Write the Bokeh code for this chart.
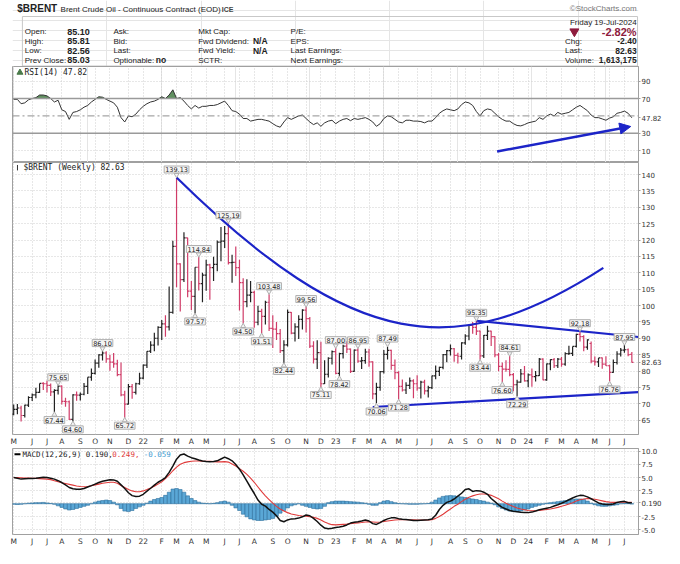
import numpy as np
import pandas as pd
from bokeh.plotting import figure
from bokeh.models import (Range1d, FixedTicker, Label, Arrow, NormalHead, Span,
                          Grid, ColumnDataSource)
from bokeh.layouts import column
from bokeh.embed import file_html
from bokeh.resources import INLINE
from bokeh.core.properties import value

# ---------------- header values ----------------
symbol = "$BRENT"
name = "Brent Crude Oil - Continuous Contract (EOD)"
exchange = "ICE"
as_of = "Friday 19-Jul-2024"
q_open, q_high, q_low, q_prev = 85.10, 85.81, 82.56, 85.03
q_last, q_chg, q_pct = 82.63, -2.40, -2.82
q_volume = 1613175

# ---------------- weekly data (first week ends 2021-05-07) ----------------
first_week = "2021-05-07"
opens = [66.8, 68.3, 68.7, 66.4, 69.6, 71.9, 72.7, 73.5, 76.2, 76.1,
         75.6, 73.6, 74.1, 75.4, 70.7, 70.6, 65.2, 72.7, 72.6, 72.9,
         75.3, 78.1, 79.3, 82.4, 84.9, 85.5, 83.7, 82.7, 82.2, 78.9,
         72.7, 69.9, 75.2, 73.5, 76.1, 77.8, 81.8, 86.1, 87.9, 90.0,
         93.3, 94.4, 93.5, 97.9, 118.1, 112.7, 107.9, 120.7, 104.4, 102.8,
         111.7, 106.7, 109.3, 112.4, 111.6, 112.6, 119.4, 119.7, 122.0, 113.1,
         113.2, 111.6, 107.0, 101.2, 103.2, 104.0, 94.9, 98.2, 96.7, 101.0,
         93.0, 92.8, 91.4, 86.2, 88.0, 97.9, 91.6, 93.5, 95.8, 98.6,
         96.0, 87.6, 83.6, 85.6, 76.1, 79.0, 83.9, 85.9, 79.3, 85.3,
         87.6, 86.7, 79.9, 86.4, 83.0, 83.2, 85.8, 82.8, 73.0, 75.0,
         79.8, 85.1, 86.3, 81.7, 79.5, 75.3, 74.2, 75.6, 77.0, 76.1,
         74.8, 76.6, 73.9, 74.9, 78.5, 79.9, 81.1, 85.0, 86.2, 86.8,
         84.8, 84.5, 88.6, 90.7, 93.9, 93.3, 92.2, 84.6, 90.9, 92.2,
         90.5, 84.9, 81.4, 80.6, 80.5, 78.9, 75.8, 76.6, 79.1, 77.0,
         78.8, 78.3, 78.6, 83.6, 77.3, 82.2, 83.5, 81.6, 83.6, 82.1,
         85.3, 85.4, 87.5, 91.2, 90.5, 87.3, 88.4, 83.0, 82.8, 84.0,
         82.1, 81.6, 79.6, 82.6, 85.2, 86.4, 86.5, 85.10]
highs = [69.8, 69.9, 69.4, 69.7, 72.3, 73.1, 74.9, 76.2, 76.6, 77.0,
         76.2, 74.4, 75.65, 75.6, 71.8, 71.0, 72.9, 73.7, 73.4, 76.3,
         78.1, 80.8, 83.5, 85.1, 86.10, 86.0, 85.0, 85.5, 83.4, 82.6,
         74.0, 76.0, 76.0, 76.4, 79.5, 82.0, 86.0, 89.1, 91.7, 93.7,
         95.6, 97.0, 105.8, 119.8, 139.13, 112.9, 122.4, 120.7, 107.5, 111.7,
         114.84, 110.0, 114.0, 112.8, 114.9, 119.9, 124.0, 124.3, 125.19, 115.5,
         118.0, 114.0, 108.3, 108.0, 107.5, 104.5, 99.9, 99.0, 101.5, 103.48,
         97.0, 95.0, 92.8, 89.4, 98.8, 98.0, 94.6, 97.0, 98.9, 99.56,
         96.5, 89.1, 89.4, 88.9, 83.3, 84.2, 86.3, 87.00, 85.6, 88.0,
         89.1, 86.9, 86.6, 86.95, 84.3, 86.8, 86.8, 83.0, 76.4, 80.0,
         86.4, 87.49, 86.5, 83.5, 79.9, 77.4, 76.6, 78.0, 77.5, 78.7,
         77.0, 77.3, 75.5, 78.6, 81.7, 81.3, 85.2, 86.4, 88.1, 87.0,
         85.6, 88.8, 91.2, 94.3, 95.0, 95.35, 92.4, 91.0, 93.8, 92.3,
         90.6, 85.5, 82.6, 83.3, 84.61, 79.4, 77.3, 80.6, 81.5, 79.2,
         80.8, 80.0, 84.0, 83.9, 82.3, 83.6, 84.0, 84.0, 84.3, 85.7,
         87.7, 87.5, 91.4, 92.18, 90.9, 89.7, 89.0, 84.4, 84.0, 84.1,
         84.5, 81.9, 83.5, 86.0, 87.0, 87.95, 86.9, 85.81]
lows = [66.5, 66.8, 64.6, 65.8, 69.0, 70.8, 71.7, 73.3, 74.2, 73.4,
        72.4, 67.44, 72.8, 69.8, 69.1, 65.0, 64.60, 70.9, 71.0, 72.6,
        73.0, 77.0, 78.9, 81.0, 83.2, 82.5, 80.1, 81.0, 78.4, 72.3,
        65.72, 69.8, 71.5, 72.8, 75.8, 77.5, 80.9, 85.5, 86.0, 87.8,
        89.5, 90.5, 92.4, 97.5, 105.6, 98.2, 107.2, 102.5, 98.6, 97.57,
        104.6, 101.0, 104.5, 101.8, 107.5, 110.5, 113.5, 117.6, 112.5, 107.0,
        109.0, 98.5, 94.50, 99.5, 101.0, 93.2, 94.0, 91.51, 94.2, 92.2,
        87.0, 89.5, 85.5, 82.44, 87.5, 91.2, 89.0, 89.8, 92.7, 91.8,
        87.0, 82.3, 80.6, 75.11, 76.0, 78.0, 82.0, 79.0, 78.42, 83.8,
        85.5, 79.4, 79.8, 82.5, 80.6, 82.2, 81.3, 71.4, 70.06, 74.0,
        79.2, 83.5, 80.4, 77.5, 71.28, 73.7, 73.0, 74.5, 71.7, 74.0,
        71.6, 72.8, 71.9, 74.5, 77.5, 78.5, 80.5, 82.7, 84.7, 82.8,
        82.3, 83.5, 88.0, 89.4, 91.4, 91.0, 83.44, 84.0, 89.5, 87.6,
        84.2, 79.9, 76.60, 79.8, 78.4, 73.8, 72.29, 76.4, 76.8, 75.0,
        75.2, 76.8, 78.5, 77.2, 77.0, 80.2, 80.9, 80.9, 81.3, 81.6,
        84.9, 84.6, 87.2, 89.0, 86.0, 86.5, 82.4, 81.7, 81.2, 80.7,
        81.5, 76.76, 79.5, 82.0, 84.4, 85.6, 84.5, 82.56]
closes = [68.3, 68.7, 66.4, 69.6, 71.9, 72.7, 73.5, 76.2, 76.1, 75.6,
          73.6, 74.1, 75.4, 70.7, 70.6, 65.2, 72.7, 72.6, 72.9, 75.3,
          78.1, 79.3, 82.4, 84.9, 85.5, 83.7, 82.7, 82.2, 78.9, 72.7,
          69.9, 75.2, 73.5, 76.1, 77.8, 81.8, 86.0, 87.9, 90.0, 93.3,
          94.4, 93.5, 97.9, 118.1, 112.7, 107.9, 120.7, 104.4, 102.8, 111.7,
          106.7, 109.3, 112.4, 111.6, 112.6, 119.4, 119.7, 122.0, 113.1, 113.2,
          111.6, 107.0, 101.2, 103.2, 104.0, 94.9, 98.2, 96.7, 101.0, 93.0,
          92.8, 91.4, 86.2, 88.0, 97.9, 91.6, 93.5, 95.8, 98.6, 96.0,
          87.6, 83.6, 85.6, 76.1, 79.0, 83.9, 85.9, 79.3, 85.3, 87.6,
          86.7, 79.9, 86.4, 83.0, 83.2, 85.8, 82.8, 73.0, 75.0, 79.8,
          85.1, 86.3, 81.7, 79.5, 75.3, 74.2, 75.6, 77.0, 76.1, 74.8,
          76.6, 73.9, 74.9, 78.5, 79.9, 81.1, 85.0, 86.2, 86.8, 84.8,
          84.5, 88.6, 90.7, 93.9, 93.3, 92.2, 84.6, 90.9, 92.2, 90.5,
          84.9, 81.4, 80.6, 80.5, 78.9, 75.8, 76.6, 79.1, 77.0, 78.8,
          78.3, 78.6, 83.6, 77.3, 82.2, 83.5, 81.6, 83.6, 82.1, 85.3,
          85.4, 87.5, 91.2, 90.5, 87.3, 89.5, 83.0, 82.8, 84.0, 82.1,
          81.6, 79.6, 82.6, 85.2, 86.4, 86.5, 85.03, 82.63]

rsi = [69, 69, 64, 65, 68.5, 70, 71, 74, 74, 73,
       70, 66, 68, 57, 55, 46, 54, 55, 57, 60,
       62, 66, 69, 72, 71.5, 69, 67, 65, 60, 48,
       43, 50, 49, 52, 57, 61, 64, 66, 67, 69,
       72, 70, 74, 80, 70, 71, 67, 62, 58, 62,
       59, 61, 61, 62, 62, 63, 65, 67, 62, 56,
       55, 52, 47, 47, 44, 45, 46, 46, 45, 44,
       41, 38.5, 37, 43, 48, 46, 48, 50, 51, 47,
       43, 40, 42, 38, 42, 44, 45, 41, 44, 46,
       47, 44.5, 47, 46, 47, 48, 46, 43, 38, 41,
       47, 50, 49, 46, 43, 42, 45, 45, 44, 44,
       43.5, 42, 44, 44, 48, 53, 56, 58, 57, 56,
       58, 63, 66, 65, 62, 55, 50, 56, 58, 57,
       53, 49, 46, 44, 44, 41, 39, 38.5, 40, 42,
       43, 44, 48, 46, 50, 52, 50, 54, 52, 53,
       54, 57, 60, 62, 59, 56, 51, 48, 48, 46.5,
       45, 47.5, 49, 53, 54, 55.5, 53, 47.82]

macd = [5.0, 4.85, 4.7, 4.75, 4.8, 4.8, 4.85, 4.95, 5.05, 5.0,
        4.85, 4.7, 4.4, 4.05, 3.6, 3.1, 2.85, 2.75, 2.75, 2.9,
        3.2, 3.45, 3.75, 4.05, 4.3, 4.45, 4.6, 4.55, 4.3, 3.6,
        2.9, 2.1, 1.55, 1.4, 1.45, 1.8, 2.4, 2.95, 3.55, 4.1,
        4.5, 5.0, 6.0, 7.2, 8.5, 9.3, 9.5, 9.1, 8.8, 8.6,
        8.35, 8.15, 8.05, 8.0, 8.05, 8.2, 8.55, 8.9, 8.6, 8.2,
        7.5, 6.6, 5.5, 4.3, 3.1, 1.95, 0.7, -0.1, -0.45, -1.1,
        -1.6, -2.3, -3.2, -3.45, -3.1, -2.9, -2.85, -2.75, -2.5, -2.15,
        -2.3, -2.8, -3.4, -4.1, -4.65, -4.8, -4.7, -4.55, -4.45, -4.3,
        -4.05, -3.7, -3.55, -3.45, -3.3, -3.1, -3.3, -3.8, -3.95, -3.6,
        -3.2, -2.9, -2.7, -2.7, -2.85, -2.95, -3.0, -3.1, -3.2, -3.2,
        -3.15, -3.1, -3.05, -2.9, -2.2, -1.1, -0.3, 0.25, 0.5, 0.9,
        1.45, 2.0, 2.7, 2.85, 2.35, 2.5, 2.45, 2.2, 1.8, 1.0,
        0.4, -0.2, -0.7, -1.0, -1.3, -1.45, -1.55, -1.65, -1.7, -1.7,
        -1.6, -1.4, -1.15, -1.0, -0.85, -0.7, -0.45, -0.2, 0.1, 0.4,
        0.75, 1.1, 1.4, 1.6, 1.55, 1.3, 0.95, 0.55, 0.15, -0.05,
        -0.15, -0.15, -0.05, 0.25, 0.4, 0.45, 0.2, 0.190]

signal = [5.0, 4.98, 4.95, 4.92, 4.9, 4.88, 4.85, 4.8, 4.75, 4.7,
          4.6, 4.4, 4.2, 4.0, 3.85, 3.7, 3.55, 3.4, 3.3, 3.25,
          3.3, 3.45, 3.6, 3.75, 3.9, 4.0, 4.1, 4.1, 3.9, 3.5,
          3.1, 2.7, 2.45, 2.3, 2.3, 2.45, 2.7, 3.0, 3.35, 3.75,
          4.2, 4.8, 5.5, 6.3, 7.0, 7.55, 7.85, 8.0, 8.1, 8.15,
          8.15, 8.1, 8.1, 8.1, 8.05, 8.0, 8.0, 8.05, 7.95, 7.6,
          7.2, 6.7, 6.2, 5.6, 4.9, 4.1, 3.2, 2.3, 1.5, 0.8,
          0.1, -0.5, -1.0, -1.4, -1.7, -1.95, -2.1, -2.25, -2.35, -2.4,
          -2.5, -2.6, -2.8, -3.1, -3.5, -3.8, -4.0, -4.05, -4.0, -3.95,
          -3.9, -3.8, -3.7, -3.65, -3.6, -3.5, -3.45, -3.5, -3.55, -3.5,
          -3.4, -3.3, -3.2, -3.1, -3.05, -3.05, -3.05, -3.05, -3.05, -3.1,
          -3.1, -3.1, -3.1, -3.05, -2.8, -2.45, -2.0, -1.5, -1.0, -0.5,
          -0.1, 0.4, 0.85, 1.25, 1.5, 1.7, 1.85, 1.85, 1.8, 1.6,
          1.3, 0.95, 0.5, 0.1, -0.25, -0.55, -0.8, -1.0, -1.15, -1.3,
          -1.35, -1.35, -1.3, -1.2, -1.1, -1.0, -0.85, -0.7, -0.5, -0.3,
          -0.05, 0.2, 0.5, 0.75, 0.9, 1.0, 0.95, 0.85, 0.7, 0.55,
          0.4, 0.3, 0.25, 0.25, 0.28, 0.3, 0.27, 0.249]

hist = [-0.1, -0.15, -0.1, 0.0, 0.1, 0.15, 0.2, 0.2, 0.25, 0.15,
        0.05, -0.1, -0.4, -0.7, -1.0, -1.2, -1.1, -0.9, -0.7, -0.5,
        -0.3, 0.0, 0.3, 0.5, 0.6, 0.7, 0.6, 0.3, -0.2, -0.9,
        -1.4, -1.5, -1.3, -0.9, -0.6, -0.3, 0.1, 0.5, 0.8, 1.0,
        1.2, 1.6, 2.2, 2.8, 2.9, 2.7, 2.2, 1.5, 1.0, 0.6,
        0.3, 0.1, 0.05, 0.0, 0.05, 0.2, 0.4, 0.5, 0.3, -0.3,
        -0.8, -1.3, -2.0, -2.5, -2.9, -3.1, -3.2, -3.2, -3.1, -3.0,
        -2.8, -2.4, -1.8, -1.3, -0.8, -0.4, -0.2, 0.0, -0.3, -0.5,
        -0.7, -0.9, -1.0, -0.9, -0.5, 0.2, 0.4, 0.5, 0.5, 0.5,
        0.45, 0.4, 0.35, 0.3, 0.2, 0.1, -0.1, -0.3, -0.3, 0.2,
        0.5, 0.6, 0.4, 0.2, 0.05, 0.0, -0.05, -0.1, -0.1, -0.1,
        -0.05, 0.0, 0.05, 0.3, 0.7, 1.1, 1.4, 1.5, 1.55, 1.5,
        1.4, 1.3, 1.2, 1.0, 0.9, 0.8, 0.6, 0.5, 0.3, 0.1,
        -0.2, -0.6, -0.9, -1.2, -1.4, -1.5, -1.5, -1.4, -1.2, -1.0,
        -0.7, -0.5, -0.3, -0.1, 0.1, 0.2, 0.3, 0.4, 0.5, 0.6,
        0.7, 0.8, 0.9, 0.9, 0.8, 0.5, 0.1, -0.2, -0.4, -0.5,
        -0.5, -0.4, -0.3, -0.2, 0.0, 0.1, 0.1, -0.059]

# labelled swing points (week indices)
pivot_highs = [12, 24, 44, 50, 58, 69, 79, 87, 93, 101, 125, 134, 153, 165]
pivot_lows = [11, 16, 30, 49, 62, 67, 73, 83, 88, 98, 104, 126, 132, 136, 161]

# analyst's drawn annotations (week index, value)
arc_pts = dict(x0=44, y0=139.13, cx0=91.8, cy0=86.1, cx1=119.4, cy1=82.3, x1=159.3, y1=111.5)
upper_tl = [(125, 95.35), (153, 92.18)]
lower_tl = [(97, 69.0), (168.8, 73.55)]
rsi_arrow = [(130.6, 9.1), (166.7, 37.8)]

n = len(closes)
for arr in (opens, highs, lows, rsi, macd, signal, hist):
    assert len(arr) == n, len(arr)

idx = np.arange(n)
dates = pd.date_range(first_week, periods=n, freq="7D")
mondays = dates - pd.Timedelta(days=4)
month_ticks = [int(i) for i in range(n) if i == 0 or mondays[i].month != mondays[i - 1].month]
month_labels = {}
for i in month_ticks:
    m = mondays[i].month
    month_labels[i] = ("%02d" % (mondays[i].year % 100)) if m == 1 else "JFMAMJJASOND"[m - 1]

RED = "#d03c68"
BLK = "#222222"
BLUE = "#1c24c8"
GRID = "#cfcfcf"
FRAME = "#a0a0a0"

bar_colors = []
for i in range(n):
    prev = closes[i - 1] if i > 0 else opens[0]
    bar_colors.append(BLK if closes[i] >= prev else RED)

W = 664
LB, RB = 12, 23
X0, X1 = -0.32, 168.8
xr = Range1d(X0, X1)
FRAME_W = W - LB - RB
PXU = FRAME_W / (X1 - X0)


def fmt_num(v, nd):
    return ("%." + str(nd) + "f") % v


def style_panel(p, ticks, labels):
    p.outline_line_color = FRAME
    p.background_fill_color = "white"
    ax = p.yaxis[0]
    ax.ticker = FixedTicker(ticks=ticks)
    ax.major_label_overrides = labels
    ax.major_label_text_font = "DejaVu Sans"
    ax.major_label_text_font_size = "7px"
    ax.major_label_text_color = "#333333"
    ax.major_tick_out = 2
    ax.major_tick_in = 0
    ax.minor_tick_line_color = None
    ax.axis_line_color = FRAME
    ax.major_tick_line_color = FRAME
    ax.major_label_standoff = 1
    p.ygrid.grid_line_color = GRID
    p.ygrid.grid_line_dash = "1 2"


def style_xaxis(p):
    ax = p.xaxis[0]
    ax.ticker = FixedTicker(ticks=month_ticks)
    ax.major_label_overrides = month_labels
    ax.major_label_text_font = "DejaVu Sans"
    ax.major_label_text_font_size = "7.5px"
    ax.major_label_text_color = "#333333"
    ax.major_tick_out = 0
    ax.major_tick_in = 0
    ax.minor_tick_line_color = None
    ax.axis_line_color = None
    ax.major_label_standoff = 2
    p.xgrid.grid_line_color = GRID
    p.xgrid.grid_line_dash = "1 2"


# ---------------- header ----------------
HH = 66
hdr = figure(width=W, height=HH, x_range=Range1d(0, W), y_range=Range1d(HH, 0),
             toolbar_location=None, output_backend="svg", min_border=0,
             x_axis_location=None, y_axis_location=None)
hdr.outline_line_color = None


def ht(x, y, s, size="8px", bold=False, align="left", color="#222222"):
    hdr.text(x=[x], y=[y], text=[s], text_font=value("Liberation Sans"), text_font_size=size,
             text_font_style="bold" if bold else "normal", text_align=align,
             text_baseline="middle", text_color=color)


hdr.quad(left=[10.5], right=[663], top=[16], bottom=[65.5], fill_color=None, line_color="#c8c8c8")
ht(5, 8, symbol, "10px", True)
ht(51, 8.5, name, "8px")
ht(222, 8.5, exchange, "7px", True, color="#444444")
ht(662, 8, "\u00a9StockCharts.com", "8px", align="right", color="#777777")
ht(662, 21.5, as_of, "8px", align="right")
r1, r2, r3, r4 = 31, 40.5, 50, 59.5
ht(13, r1, "Open:"); ht(82, r1, "%.2f" % q_open, "9px", True, "right")
ht(13, r2, "High:"); ht(82, r2, "%.2f" % q_high, "9px", True, "right")
ht(13, r3, "Low:"); ht(82, r3, "%.2f" % q_low, "9px", True, "right")
ht(13, r4, "Prev Close:"); ht(82, r4, "%.2f" % q_prev, "9px", True, "right")
ht(107, r1, "Ask:"); ht(107, r2, "Bid:"); ht(107, r3, "Last:"); ht(107, r4, "Optionable:")
ht(152, r4, "no", "8.5px", True)
ht(197, r1, "Mkt Cap:"); ht(197, r2, "Fwd Dividend:"); ht(197, r3, "Fwd Yield:"); ht(197, r4, "SCTR:")
ht(255, r2, "N/A", "8.5px", True); ht(255, r3, "N/A", "8.5px", True)
ht(295, r1, "P/E:"); ht(295, r2, "EPS:"); ht(295, r3, "Last Earnings:"); ht(295, r4, "Next Earnings:")
hdr.scatter(x=[596], y=[r1], marker="inverted_triangle", size=9, color="#8e1b3d")
ht(662, r1 + 0.5, "%.2f%%" % q_pct, "11px", True, "right", "#8e1b3d")
ht(586, r2, "Chg:"); ht(662, r2, "%.2f" % q_chg, "8.5px", True, "right")
ht(586, r3, "Last:"); ht(662, r3, "%.2f" % q_last, "8.5px", True, "right")
ht(586, r4, "Volume:"); ht(662, r4, "{:,}".format(q_volume), "8.5px", True, "right")

# ---------------- RSI panel ----------------
RY0, RY1 = -3.6, 106.8
RH = 96
prs = figure(width=W, height=RH, x_range=xr, y_range=Range1d(RY0, RY1), toolbar_location=None,
             output_backend="svg", x_axis_location=None, y_axis_location="right",
             min_border_left=LB, min_border_right=RB, min_border_top=0, min_border_bottom=0)
rsi_ticks = [10, 30, 70, 90, rsi[-1]]
rsi_lbls = {10: "10", 30: "30", 70: "70", 90: "90", rsi[-1]: fmt_num(rsi[-1], 2)}
style_panel(prs, rsi_ticks, rsi_lbls)
prs.ygrid.ticker = FixedTicker(ticks=[10, 90])
prs.add_layout(Grid(dimension=0, ticker=FixedTicker(ticks=month_ticks), grid_line_color=GRID,
                    grid_line_dash="1 2"))
prs.add_layout(Span(location=70, dimension="width", line_color="#9a9a9a", line_width=1.5))
prs.add_layout(Span(location=30, dimension="width", line_color="#9a9a9a", line_width=1.5))
prs.add_layout(Span(location=50, dimension="width", line_color="#909090", line_width=1,
                    line_dash="7 3 2 3"))
rsi_arr = np.array(rsi, dtype=float)
prs.varea(x=idx, y1=np.full(n, 70.0), y2=np.maximum(rsi_arr, 70.0), fill_color="#5f8f5f")
prs.line(idx, rsi_arr, line_color="#333333", line_width=1)
rpxu = RH / (RY1 - RY0)
prs.scatter(x=[X0 + 7.5 / PXU], y=[RY1 - 6 / rpxu], marker="triangle", size=6, color="#4a7a4a")
prs.add_layout(Label(x=X0 + 12 / PXU, y=RY1 - 6 / rpxu, text="RSI(14) %.2f" % rsi[-1],
                     text_baseline="middle", text_font="DejaVu Sans Mono", text_font_size="8px",
                     text_color="#222222"))
prs.add_layout(Arrow(end=NormalHead(size=11, fill_color=BLUE, line_color=BLUE),
                     x_start=rsi_arrow[0][0], y_start=rsi_arrow[0][1],
                     x_end=rsi_arrow[1][0], y_end=rsi_arrow[1][1],
                     line_color=BLUE, line_width=2.5))

# ---------------- price panel ----------------
PY0, PY1 = 60.6, 143.7
PH = 286
pm = figure(width=W, height=PH, x_range=xr, y_range=Range1d(PY0, PY1), toolbar_location=None,
            output_backend="svg", y_axis_location="right",
            min_border_left=LB, min_border_right=RB, min_border_top=0, min_border_bottom=0)
price_ticks = list(range(65, 141, 5)) + [closes[-1]]
price_lbls = {t: str(t) for t in range(65, 141, 5)}
price_lbls[closes[-1]] = fmt_num(closes[-1], 2)
style_panel(pm, price_ticks, price_lbls)
style_xaxis(pm)
src = ColumnDataSource(dict(x=idx, xl=idx - 0.45, xr=idx + 0.45, o=opens, h=highs, l=lows,
                            c=closes, col=bar_colors))
pm.segment(x0="x", y0="l", x1="x", y1="h", line_color="col", line_width=1.2, source=src)
pm.segment(x0="xl", y0="o", x1="x", y1="o", line_color="col", line_width=1.2, source=src)
pm.segment(x0="x", y0="c", x1="xr", y1="c", line_color="col", line_width=1.2, source=src)

ppxu = (PH - 11) / (PY1 - PY0)
pm.bezier(x0=[arc_pts["x0"]], y0=[arc_pts["y0"]], x1=[arc_pts["x1"]], y1=[arc_pts["y1"]],
          cx0=[arc_pts["cx0"]], cy0=[arc_pts["cy0"]], cx1=[arc_pts["cx1"]], cy1=[arc_pts["cy1"]],
          line_color=BLUE, line_width=2.2)
(ux0, uy0), (ux1, uy1) = upper_tl
slope = (uy1 - uy0) / (ux1 - ux0)
pm.line([ux0, X1], [uy0, uy0 + slope * (X1 - ux0)], line_color=BLUE, line_width=2.2)
pm.line([lower_tl[0][0], lower_tl[1][0]], [lower_tl[0][1], lower_tl[1][1]],
        line_color=BLUE, line_width=2.2)

gap = 4.5 / ppxu
for i in pivot_highs:
    pm.scatter(x=[i], y=[highs[i] + 2.6 / ppxu], marker="inverted_triangle", size=5,
               fill_color="#f4f4f4", line_color="#b0b0b0")
    pm.add_layout(Label(x=i, y=highs[i] + gap, text="%.2f" % highs[i], text_align="center",
                        text_baseline="bottom", text_font="DejaVu Sans", text_font_size="6.5px",
                        text_color="#222222", background_fill_color="#f4f4f4",
                        border_line_color="#b0b0b0", padding=1))
for i in pivot_lows:
    pm.scatter(x=[i], y=[lows[i] - 2.6 / ppxu], marker="triangle", size=5,
               fill_color="#f4f4f4", line_color="#b0b0b0")
    pm.add_layout(Label(x=i, y=lows[i] - gap, text="%.2f" % lows[i], text_align="center",
                        text_baseline="top", text_font="DejaVu Sans", text_font_size="6.5px",
                        text_color="#222222", background_fill_color="#f4f4f4",
                        border_line_color="#b0b0b0", padding=1))

pm.add_layout(Label(x=X0 + 11 / PXU, y=PY1 - 5 / ppxu, text="%s (Weekly) %.2f" % (symbol, closes[-1]),
                    text_baseline="middle", text_font="DejaVu Sans Mono", text_font_size="8px",
                    text_color="#222222"))
pm.segment(x0=[X0 + 5 / PXU], x1=[X0 + 5 / PXU], y0=[PY1 - 8 / ppxu], y1=[PY1 - 2.5 / ppxu],
           line_color="#333333", line_width=1)

# ---------------- MACD panel ----------------
MY0, MY1 = -5.88, 10.55
MH = 100
pmd = figure(width=W, height=MH, x_range=xr, y_range=Range1d(MY0, MY1), toolbar_location=None,
             output_backend="svg", y_axis_location="right",
             min_border_left=LB, min_border_right=RB, min_border_top=0, min_border_bottom=0)
macd_ticks = [-5, -2.5, 2.5, 5, 7.5, 10, macd[-1]]
macd_lbls = {-5: "-5.0", -2.5: "-2.5", 2.5: "2.5", 5: "5.0", 7.5: "7.5", 10: "10.0",
             macd[-1]: fmt_num(macd[-1], 3)}
style_panel(pmd, macd_ticks, macd_lbls)
style_xaxis(pmd)
pmd.vbar(x=idx, top=hist, bottom=0, width=1.0, fill_color="#5aa7d6", line_color="#2d6f9c",
         line_width=0.6)
pmd.line(idx, signal, line_color="#e03a3a", line_width=1.1)
pmd.line(idx, macd, line_color="#111111", line_width=1.5)
mpxu = (MH - 11) / (MY1 - MY0)
ly = MY1 - 6 / mpxu
pmd.segment(x0=[X0 + 2 / PXU], x1=[X0 + 8 / PXU], y0=[ly], y1=[ly], line_color="black", line_width=2)
cw = 0.602 * 7.5 / PXU
t1 = "MACD(12,26,9) %.3f," % macd[-1]
t2 = " %.3f," % signal[-1]
t3 = " %.3f" % hist[-1]
x_leg = X0 + 10 / PXU
for txt, off, colr in ((t1, 0, "#222222"), (t2, len(t1), "#e03a3a"), (t3, len(t1) + len(t2), "#3b9ad0")):
    pmd.add_layout(Label(x=x_leg + off * cw, y=ly, text=txt, text_baseline="middle",
                         text_font="DejaVu Sans Mono", text_font_size="7.5px", text_color=colr))

layout = column(hdr, prs, pm, pmd, spacing=0)
open("out.html", "w").write(file_html(layout, INLINE))
